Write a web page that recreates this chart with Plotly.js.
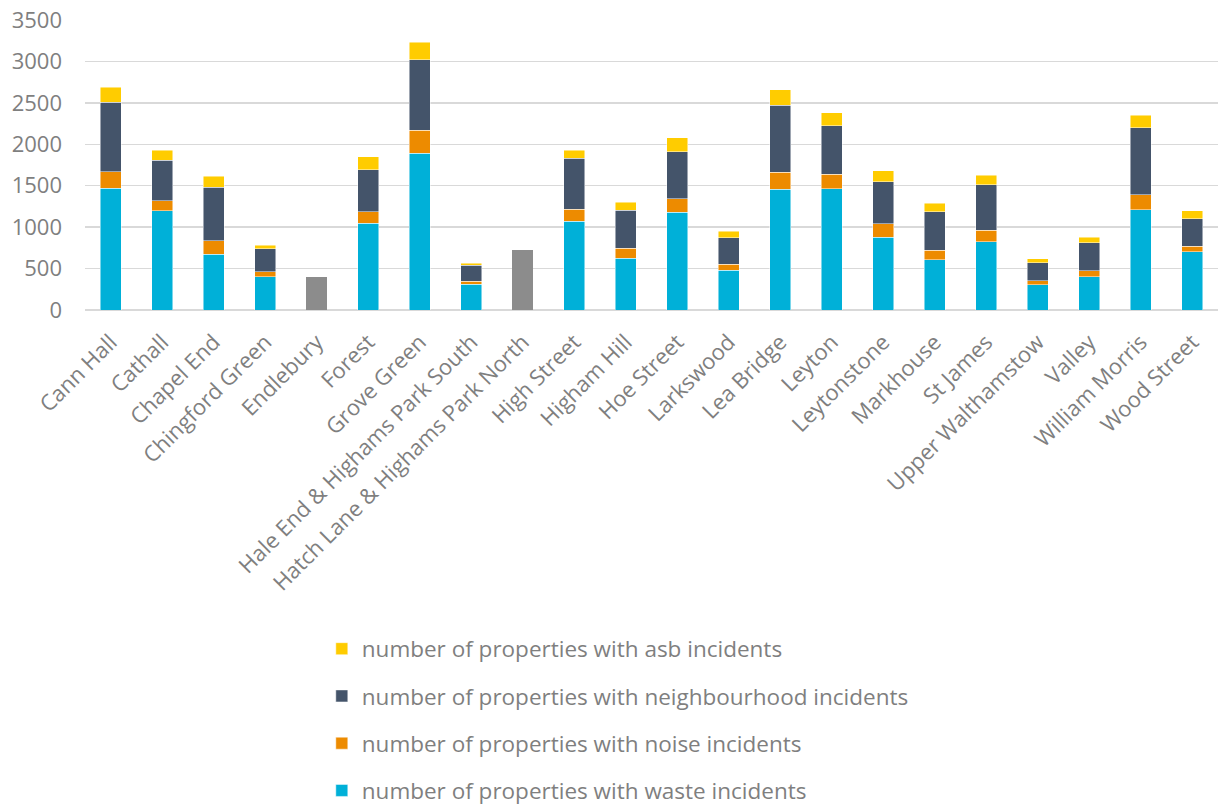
<!DOCTYPE html>
<html>
<head>
<meta charset="utf-8">
<script src="https://cdn.plot.ly/plotly-3.0.1.min.js"></script>
<style>html,body{margin:0;padding:0;background:#fff;}#chart{width:1223px;height:807px;}</style>
</head>
<body>
<div id="chart"></div>
<script>
const wards = ["Cann Hall","Cathall","Chapel End","Chingford Green","Endlebury","Forest","Grove Green","Hale End & Highams Park South","Hatch Lane & Highams Park North","High Street","Higham Hill","Hoe Street","Larkswood","Lea Bridge","Leyton","Leytonstone","Markhouse","St James","Upper Walthamstow","Valley","William Morris","Wood Street"];
const waste = [1468,1195,672,402,null,1046,1891,310,null,1070,624,1179,479,1460,1464,877,608,825,302,402,1211,704];
const noise = [202,121,161,57,null,141,277,40,null,145,120,161,76,202,177,161,112,137,52,69,177,64];
const neighbourhood = [840,490,647,281,null,503,853,189,null,619,459,571,318,812,580,507,463,551,217,338,813,334];
const asb = [177,121,137,44,null,157,213,28,null,97,100,165,76,185,157,133,108,116,45,68,152,93];
const noBreakdown = [null,null,null,null,398,null,null,null,724,null,null,null,null,null,null,null,null,null,null,null,null,null];

const names = ["number of properties with waste incidents","number of properties with noise incidents","number of properties with neighbourhood incidents","number of properties with asb incidents"];
const colors = ["#00B0D8","#ED8B00","#44546A","#FFCC00"];
const series = [waste, noise, neighbourhood, asb];

const traces = series.map((vals, i) => ({
  type: 'bar', x: wards, y: vals, name: names[i], legendgroup: 'g' + i, legendrank: 10 - i,
  marker: {color: colors[i], line: {color: 'rgba(255,255,255,0.6)', width: 0.8}},
  hoverinfo: 'x+y+name'
}));
traces.unshift({
  type: 'bar', x: wards, y: noBreakdown, name: 'total', showlegend: false, legendgroup: 'gx', legendrank: 100,
  marker: {color: '#8C8C8C', line: {width: 0}}
});

const layout = {
  width: 1223, height: 807,
  barmode: 'stack', bargap: 0.59,
  margin: {l: 85, r: 5, t: 20, b: 497, autoexpand: false},
  paper_bgcolor: '#ffffff', plot_bgcolor: '#ffffff',
  font: {family: '"Open Sans", "Noto Sans", sans-serif', color: '#7F7F7F'},
  xaxis: {
    type: 'category', tickangle: -45, tickfont: {size: 22, color: '#7F7F7F'},
    showgrid: false, showline: false, ticks: '', automargin: false, ticklabelstandoff: 14
  },
  yaxis: {
    range: [0, 3500], dtick: 500, tickfont: {size: 22, color: '#7F7F7F'},
    showgrid: true, gridcolor: '#D9D9D9', gridwidth: 1.5,
    zeroline: true, zerolinecolor: '#D9D9D9', zerolinewidth: 1.5,
    ticks: '', ticklen: 0, automargin: false, ticklabelstandoff: 22
  },
  showlegend: true,
  legend: {
    orientation: 'v', traceorder: 'grouped', tracegroupgap: 15,
    x: 0.209, xanchor: 'left', y: -1.095, yanchor: 'top',
    font: {size: 22.5, color: '#7F7F7F'}, itemwidth: 30
  }
};

Plotly.newPlot('chart', traces, layout, {displayModeBar: false, staticPlot: true});
</script>
</body>
</html>
